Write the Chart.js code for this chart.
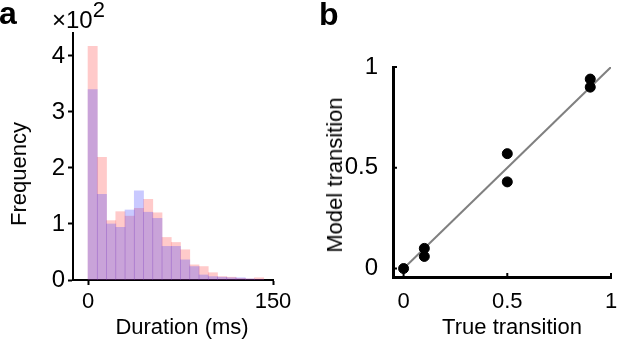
<!DOCTYPE html>
<html>
<head>
<meta charset="utf-8">
<script src="https://cdn.jsdelivr.net/npm/chart.js@4.4.0/dist/chart.umd.min.js"></script>
<style>
    body { margin: 0; background: #fff; }
    #wrap { position: relative; width: 617px; height: 343px; overflow: hidden; font-family: "Liberation Sans", Arial, sans-serif; color: #000; }
    #wrap canvas { position: absolute; top: 0; }
    .lbl { position: absolute; white-space: nowrap; line-height: 1; }
    .center { transform: translate(-50%, -50%); }
    .vert { transform: translate(-50%, -50%) rotate(-90deg); }
</style>
</head>
<body>
<div id="wrap">
    <canvas id="graficoA" width="300" height="343" style="left:0"></canvas>
    <canvas id="graficoB" width="317" height="343" style="left:300px"></canvas>

    <div class="lbl" style="left:-1px; top:-3px; font-size:32px; font-weight:bold;">a</div>
    <div class="lbl" style="left:319px; top:-2px; font-size:32px; font-weight:bold;">b</div>
    <div class="lbl" style="left:52px; top:8px; font-size:24px;">×10<span style="font-size:22px; position:relative; top:-11px;">2</span></div>

    <div class="lbl vert" style="left:19px; top:174px; font-size:22px;">Frequency</div>
    <div class="lbl center" style="left:182px; top:327px; font-size:22px;">Duration (ms)</div>
    <div class="lbl vert" style="left:335px; top:175px; font-size:22px;">Model transition</div>
    <div class="lbl center" style="left:512px; top:327px; font-size:22px;">True transition</div>
</div>
<script>
// panel a: histogram of durations (bins of 7.5 ms)
const binCenters = [3.75, 11.25, 18.75, 26.25, 33.75, 41.25, 48.75, 56.25, 63.75, 71.25,
    78.75, 86.25, 93.75, 101.25, 108.75, 116.25, 123.75, 131.25, 138.75];
const countsRed = [417, 219, 106, 122, 114, 128, 144, 120, 76, 67, 54, 27, 24, 13, 6, 5, 3, 2, 4];
const countsBlue = [340, 153, 100, 94, 125, 159, 121, 110, 60, 60, 36, 24, 9, 6, 5, 4, 4, 2, 1];
const xTicksA = [0, 150];
const yTicksA = [0, 100, 200, 300, 400];

// panel b: true vs model transition probabilities
const trueTransition = [0, 0.1, 0.1, 0.5, 0.5, 0.9, 0.9];
const modelTransition = [0, 0.10, 0.06, 0.57, 0.43, 0.94, 0.90];
const identityX = [0, 1];
const identityY = [0, 1];
const xTicksB = [0, 0.5, 1];
const yTicksB = [0, 0.5, 1];

Chart.defaults.font.family = '"Liberation Sans", Arial, sans-serif';
Chart.defaults.color = "#000";

function setTicks(values) {
    return (scale) => {
        scale.ticks = values.map((v) => ({ value: v }));
    };
}

const dataGraficoA = {
    datasets: [
        {
            label: "Blue",
            backgroundColor: "rgba(60, 60, 255, 0.28)",
            borderWidth: 0,
            grouped: false,
            barPercentage: 1,
            categoryPercentage: 1,
            data: binCenters.map((x, i) => ({ x: x, y: countsBlue[i] })),
        },
        {
            label: "Red",
            backgroundColor: "rgba(255, 60, 60, 0.27)",
            borderWidth: 0,
            grouped: false,
            barPercentage: 1,
            categoryPercentage: 1,
            data: binCenters.map((x, i) => ({ x: x, y: countsRed[i] })),
        },
    ],
};

const configGraficoA = {
    type: "bar",
    data: dataGraficoA,
    options: {
        responsive: false,
        animation: false,
        layout: { padding: { top: 33, right: 27, left: 0, bottom: 0 } },
        plugins: { legend: { display: false }, tooltip: { enabled: false } },
        scales: {
            x: {
                type: "linear",
                min: -12.2,
                max: 150,
                offset: false,
                afterBuildTicks: setTicks(xTicksA),
                afterFit: (scale) => {
                    scale.height = 63;
                    scale.paddingLeft = 0;
                    scale.paddingRight = 0;
                },
                grid: {
                    offset: false,
                    drawOnChartArea: false,
                    color: "#000",
                    tickColor: "#000",
                    tickWidth: 2,
                    tickLength: 5,
                },
                border: { color: "#000", width: 2 },
                ticks: {
                    padding: 4,
                    maxRotation: 0,
                    autoSkip: false,
                    font: { size: 22 },
                    callback: (v) => String(v),
                },
            },
            y: {
                min: 0,
                max: 441,
                afterBuildTicks: setTicks(yTicksA),
                afterFit: (scale) => {
                    scale.width = 73;
                    scale.paddingTop = 0;
                    scale.paddingBottom = 0;
                },
                grid: {
                    drawOnChartArea: false,
                    color: "#000",
                    tickColor: "#000",
                    tickWidth: 2,
                    tickLength: 5,
                },
                border: { color: "#000", width: 2 },
                ticks: {
                    padding: 3,
                    font: { size: 24 },
                    callback: (v) => String(v / 100),
                },
            },
        },
    },
};

const chartA = new Chart(document.getElementById("graficoA"), configGraficoA);

// short ticks pointing into the plot, as in panel b
const innerTicks = {
    id: "innerTicks",
    afterDraw(chart) {
        const { ctx, chartArea, scales } = chart;
        ctx.save();
        ctx.strokeStyle = "#000";
        ctx.lineWidth = 2;
        ctx.beginPath();
        yTicksB.forEach((v) => {
            const y = scales.y.getPixelForValue(v);
            ctx.moveTo(chartArea.left, y);
            ctx.lineTo(chartArea.left + 4, y);
        });
        xTicksB.forEach((v) => {
            const x = scales.x.getPixelForValue(v);
            ctx.moveTo(x, chartArea.bottom);
            ctx.lineTo(x, chartArea.bottom - 4);
        });
        ctx.stroke();
        ctx.restore();
    },
};

const dataGraficoB = {
    datasets: [
        {
            type: "scatter",
            label: "Transitions",
            backgroundColor: "#000",
            borderColor: "#000",
            pointRadius: 5,
            data: trueTransition.map((x, i) => ({ x: x, y: modelTransition[i] })),
        },
        {
            type: "line",
            label: "Identity",
            borderColor: "#808080",
            borderWidth: 2,
            pointRadius: 0,
            data: identityX.map((x, i) => ({ x: x, y: identityY[i] })),
        },
    ],
};

const configGraficoB = {
    type: "scatter",
    data: dataGraficoB,
    options: {
        responsive: false,
        animation: false,
        layout: { padding: { top: 67, right: 5, left: 0, bottom: 0 } },
        plugins: { legend: { display: false }, tooltip: { enabled: false } },
        scales: {
            x: {
                type: "linear",
                min: -0.051,
                max: 1,
                afterBuildTicks: setTicks(xTicksB),
                afterFit: (scale) => {
                    scale.height = 66;
                    scale.paddingLeft = 0;
                    scale.paddingRight = 0;
                },
                grid: { display: false },
                border: { color: "#000", width: 3 },
                ticks: {
                    padding: 4,
                    maxRotation: 0,
                    autoSkip: false,
                    font: { size: 22 },
                    callback: (v) => String(v),
                },
            },
            y: {
                type: "linear",
                min: -0.042,
                max: 1,
                afterBuildTicks: setTicks(yTicksB),
                afterFit: (scale) => {
                    scale.width = 93;
                    scale.paddingTop = 0;
                    scale.paddingBottom = 0;
                },
                grid: { display: false },
                border: { color: "#000", width: 3 },
                ticks: {
                    padding: 7,
                    font: { size: 24 },
                    callback: (v) => String(v),
                },
            },
        },
    },
    plugins: [innerTicks],
};

const chartB = new Chart(document.getElementById("graficoB"), configGraficoB);
</script>
</body>
</html>
